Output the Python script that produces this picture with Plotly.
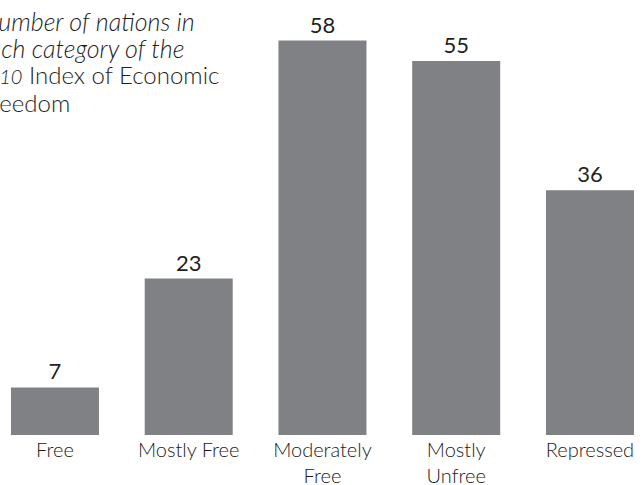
import plotly.graph_objects as go

categories = ["Free", "Mostly Free", "Moderately<br>Free", "Mostly<br>Unfree", "Repressed"]
values = [7, 23, 58, 55, 36]
title_lines = [
    "<i>Number of nations in</i>",
    "<i>each category of the</i>",
    "<span style='font-size:20px'><i>2010</i></span> Index of Economic",
    "Freedom",
]

BAR = "#808184"
TXT = "#231f20"
FONT = "Lato"

fig = go.Figure(go.Bar(
    x=list(range(len(categories))),
    y=values,
    width=0.658,
    marker=dict(color=BAR, line=dict(width=0)),
    text=[str(v) for v in values],
    textposition="outside",
    textfont=dict(family=FONT, size=22, color=TXT),
    cliponaxis=False,
))

annotations = []
tops = [3.5, 30.5, 58.5, 86]
xs = [-21, -25, -26, -23]
sizes = [25, 25, 24, 24]
for line, top, xo, sz in zip(title_lines, tops, xs, sizes):
    annotations.append(dict(
        xref="paper", yref="paper",
        x=xo / 644, y=1 - top / 435,
        xanchor="left", yanchor="top", align="left",
        text=line, showarrow=False,
        font=dict(family=FONT, size=sz, color="#1e1e1e", weight=300),
    ))

fig.update_layout(
    width=644, height=485,
    margin=dict(l=0, r=0, t=0, b=50),
    paper_bgcolor="white", plot_bgcolor="white",
    showlegend=False,
    xaxis=dict(
        range=[-0.411, 4.404],
        tickmode="array",
        tickvals=list(range(len(categories))),
        ticktext=categories,
        tickfont=dict(family=FONT, size=20, color="#1a1a1a", weight=300),
        ticklabelstandoff=1,
        automargin=False,
        showgrid=False, zeroline=False, showline=False, ticks="",
    ),
    yaxis=dict(range=[0, 63.97], visible=False, showgrid=False, zeroline=False,
               automargin=False),
    annotations=annotations,
)

fig.write_html("out.html")
